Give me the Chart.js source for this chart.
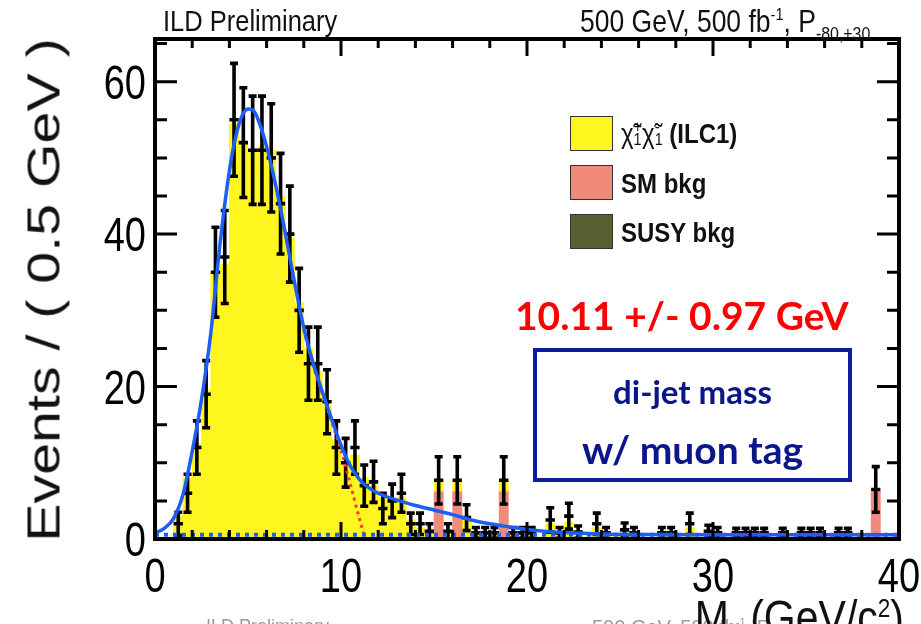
<!DOCTYPE html>
<html>
<head>
<meta charset="utf-8">
<script src="https://cdn.jsdelivr.net/npm/chart.js@4.4.1/dist/chart.umd.min.js"></script>
<style>
html, body { margin: 0; padding: 0; background: #fff; }
#wrap { position: relative; width: 921px; height: 624px; overflow: hidden;
        font-family: 'Liberation Sans', Arial, sans-serif; color: #111; }
canvas { position: absolute; left: 0; top: 0; }
.t { position: absolute; white-space: nowrap; line-height: 1; }
.st { transform-origin: 0 0; transform: scaleY(1.18); }
.top { font-size: 25.5px; top: 6px; }
.faint { font-size: 18px; top: 617px; color: #9a9a9a; }
.ytitle { font-size: 47px; left: 43px; top: 290px; transform: translate(-50%, -50%) scaleY(1.22) rotate(-90deg); }
.xtitle { font-size: 41px; right: 17px; top: 594px; text-align: right; transform-origin: 100% 0; }
.fitval { font-family: Lato, sans-serif; font-weight: 700; color: #f00; font-size: 39px; left: 515px; top: 296px; }
.box { position: absolute; left: 533px; top: 348px; width: 311px; height: 126px; border: 4px solid #0b1c9c; }
.boxtxt { font-family: Lato, sans-serif; font-weight: 700; color: #0a168a; width: 319px; left: 533px; text-align: center; }
.leg { position: absolute; left: 570px; width: 41px; height: 33px; border: 1.5px solid #333; }
.legtxt { font-weight: 700; font-size: 24px; left: 621px; }
.ss { display: inline-block; vertical-align: -0.15em; line-height: 0.75; font-size: 0.6em; text-align: left; }
</style>
</head>
<body>
<div id="wrap">
<canvas id="c" width="921" height="624"></canvas>
<div class="t top st" style="left:163px;">ILD Preliminary</div>
<div class="t top st" style="left:580px; font-size:26.5px;">500 GeV, 500 fb<sup style="font-size:0.55em">-1</sup>, P<sub style="font-size:0.6em; vertical-align:-0.45em">-80,+30</sub></div>
<div class="t faint" style="left:206px;">ILD Preliminary</div>
<div class="t faint" style="left:592px; font-size:20px;">500 GeV, 500 fb<sup style="font-size:0.55em">-1</sup>, P</div>
<div class="t ytitle">Events / ( 0.5 GeV )</div>
<div class="t xtitle st">M<sub style="font-size:0.55em">jj</sub> (GeV/c<sup style="font-size:0.55em">2</sup>)</div>
<div class="leg" style="top:116px; background:#fff51f;"></div>
<div class="leg" style="top:165px; background:#f08a7a;"></div>
<div class="leg" style="top:214px; background:#566030;"></div>
<div class="t legtxt st" style="top:119px;"><span style="font-weight:400">χ̃<span class="ss">+<br>1</span>χ̃<span class="ss">-<br>1</span></span> (ILC1)</div>
<div class="t legtxt st" style="top:169px;">SM bkg</div>
<div class="t legtxt st" style="top:218px;">SUSY bkg</div>
<div class="t fitval">10.11 +/- 0.97 GeV</div>
<div class="box"></div>
<div class="t boxtxt" style="top:375px; font-size:33px;">di-jet mass</div>
<div class="t boxtxt" style="top:430px; font-size:39px;">w/ muon tag</div>
</div>
<script>
// binning of the histogram (0.5 GeV bins from 0 to 40)
const binWidth = 0.5;
const binCenters = Array.from({length: 80}, (_, i) => 0.25 + binWidth * i);

// chargino signal MC (yellow), per bin
const signalMC = [
  0, 0, 3, 8, 12.5, 19.5, 35, 36, 54.5, 52,
  51, 51.5, 51, 45, 39.5, 31, 25, 22, 17.5, 13,
  10, 11, 8, 7, 5.5, 5, 5.5, 2.5, 1.5, 1.2,
  1.3, 1, 1.3, 2.5, 0.8, 0.8, 0.6, 1.3, 0.7, 0.8,
  0.6, 0.3, 2, 0.6, 2.2, 0.6, 0.3, 1.5, 0.5, 0.3,
  0.8, 0.5, 0.2, 0.2, 0.4, 0.8, 0.2, 1.5, 0.2, 0.8,
  0.5, 0.2, 0.3, 0.5, 0.4, 0.4, 0.2, 0.4, 0.2, 0.3,
  0.3, 0.4, 0.2, 0.3, 0.3, 0.2, 0.2, 0, 0.2, 0
];

// SM background (salmon), only the filled bins
const smBkgBins = [15.25, 16.25, 18.75, 38.75];
const smBkgVals = [6.2, 6.2, 6.2, 6.2];

// pseudo-data points and their errors, per bin
const dataY = [
  0, 0, 2, 6, 12, 19, 35, 37, 55, 52,
  51, 51, 50, 44, 40, 30, 23, 23, 18, 12,
  10, 12, 7, 7.5, 4, 5, 6, 2, 2, 1,
  7.7, 1, 7.7, 2.8, 0.8, 0.8, 0.8, 7.7, 0.8, 0.8,
  0.8, 0, 2.5, 0.8, 3, 0.9, 0, 2, 0.8, 0,
  1.2, 0.8, 0, 0, 0.8, 0.8, 0, 2, 0, 1,
  0.8, 0, 0.8, 0.8, 0.8, 0.8, 0, 0.8, 0, 0.8,
  0.8, 0.8, 0, 0.8, 0.8, 0, 0, 6.5, 0, 0
];
const dataErr = [
  0, 0, 1.5, 2.5, 3.5, 4.4, 5.9, 6.1, 7.4, 7.2,
  7.1, 7.1, 7.1, 6.6, 6.3, 5.5, 4.8, 4.8, 4.2, 3.5,
  3.2, 3.5, 2.7, 2.7, 2.0, 2.2, 2.5, 1.4, 1.4, 1.0,
  3.1, 1.0, 3.1, 1.7, 0.7, 0.7, 0.7, 3.1, 0.7, 0.7,
  0.7, 0, 1.6, 0.7, 1.7, 0.8, 0, 1.4, 0.7, 0,
  0.9, 0.7, 0, 0, 0.7, 0.7, 0, 1.4, 0, 0.8,
  0.7, 0, 0.6, 0.6, 0.6, 0.6, 0, 0.6, 0, 0.6,
  0.6, 0.6, 0, 0.6, 0.6, 0, 0, 3.0, 0, 0
];

// total fit (blue)
const fitX = [0, 0.5, 1, 1.5, 2, 2.5, 3, 3.5, 4, 4.5, 5, 5.25, 5.5, 6, 6.5, 7, 7.5, 8, 8.5, 9,
  9.5, 10, 10.5, 11, 11.5, 12, 13, 14, 15, 16, 17, 18, 19, 20, 21, 22, 23, 24, 26, 30, 35, 40];
const fitY = [0.8, 1.4, 2.7, 5.8, 11.5, 18.3, 27, 38.8, 48.3, 54.3, 56.4, 56.3, 55.3, 51.5, 46.3, 40.2, 33.7, 27.7, 23.1, 19.3,
  15.7, 12.3, 9.6, 7.8, 6.7, 6.0, 5.1, 4.4, 3.8, 3.2, 2.5, 2.0, 1.6, 1.25, 1.0, 0.85, 0.75, 0.65, 0.58, 0.55, 0.55, 0.55];

// signal component of the fit (red dotted), visible part
const sigX = [8, 8.5, 9, 9.5, 10, 10.5, 11, 11.3];
const sigY = [27.4, 22.8, 19.0, 15.4, 11.6, 7.2, 2.6, 0];

// flat background component (blue dotted)
const baseX = [0, 40];
const baseY = [0.55, 0.55];

// axis ticks
const xTicks = [0, 10, 20, 30, 40];
const yTicks = [0, 20, 40, 60];

const toXY = (xs, ys) => xs.map((x, i) => ({x: x, y: ys[i]}));
const smBkg = binCenters.map(c => {
  const k = smBkgBins.indexOf(c);
  return k >= 0 ? smBkgVals[k] : 0;
});
const points = [];
const pointErr = [];
binCenters.forEach((x, i) => {
  if (dataY[i] > 0) { points.push({x: x, y: dataY[i]}); pointErr.push(dataErr[i]); }
});

// error bars for the data points
const errorBars = {
  id: 'errorBars',
  afterDatasetDraw(chart, args) {
    const ds = chart.data.datasets[args.index];
    if (!ds.errors) return;
    const {ctx, chartArea: a, scales: {x, y}} = chart;
    ctx.save();
    ctx.beginPath();
    ctx.rect(a.left, a.top, a.right - a.left, a.bottom - a.top);
    ctx.clip();
    ctx.strokeStyle = '#000';
    ctx.lineWidth = 3.6;
    ds.data.forEach((p, i) => {
      const e = ds.errors[i];
      const px = x.getPixelForValue(p.x);
      const py = y.getPixelForValue(p.y);
      const top = y.getPixelForValue(p.y + e);
      const bot = y.getPixelForValue(Math.max(p.y - e, 0));
      const xl = x.getPixelForValue(p.x - binWidth / 2);
      const xr = x.getPixelForValue(p.x + binWidth / 2);
      ctx.beginPath();
      ctx.moveTo(px, top); ctx.lineTo(px, bot);
      ctx.moveTo(xl, py); ctx.lineTo(xr, py);
      ctx.moveTo(px - 4, top); ctx.lineTo(px + 4, top);
      ctx.moveTo(px - 4, bot); ctx.lineTo(px + 4, bot);
      ctx.stroke();
    });
    ctx.restore();
  }
};

// ROOT-like frame with inner ticks and tall tick labels
const frame = {
  id: 'frame',
  afterDraw(chart) {
    const {ctx, chartArea: a, scales: {x, y}} = chart;
    ctx.save();
    ctx.strokeStyle = '#000';
    ctx.lineWidth = 3;
    ctx.beginPath();
    for (let v = 0; v <= 40; v += 2) {
      const px = x.getPixelForValue(v);
      const len = v % 10 === 0 ? 17 : 9;
      ctx.moveTo(px, a.bottom); ctx.lineTo(px, a.bottom - len);
      ctx.moveTo(px, a.top); ctx.lineTo(px, a.top + len);
    }
    for (let v = 0; v <= 65; v += 5) {
      const py = y.getPixelForValue(v);
      const len = v % 20 === 0 ? 22 : 12;
      ctx.moveTo(a.left, py); ctx.lineTo(a.left + len, py);
      ctx.moveTo(a.right, py); ctx.lineTo(a.right - len, py);
    }
    ctx.stroke();
    ctx.lineWidth = 4;
    ctx.strokeRect(a.left, a.top, a.right - a.left, a.bottom - a.top);

    ctx.fillStyle = '#000';
    ctx.font = "38px 'Liberation Sans', Arial, sans-serif";
    ctx.textBaseline = 'alphabetic';
    ctx.textAlign = 'center';
    x.ticks.forEach(t => {
      ctx.save();
      ctx.translate(x.getPixelForValue(t.value), 592);
      ctx.scale(1, 1.28);
      ctx.fillText(String(t.value), 0, 0);
      ctx.restore();
    });
    ctx.textAlign = 'right';
    y.ticks.forEach(t => {
      ctx.save();
      ctx.translate(a.left - 9, y.getPixelForValue(t.value) + 17);
      ctx.scale(1, 1.28);
      ctx.fillText(String(t.value), 0, 0);
      ctx.restore();
    });
    ctx.restore();
  }
};

new Chart(document.getElementById('c'), {
  type: 'bar',
  data: {
    datasets: [
      { type: 'line', label: 'bkg', data: toXY(baseX, baseY), borderColor: '#1e5ef5', borderWidth: 4,
        borderDash: [4, 5], pointRadius: 0, order: 0, stack: 's0' },
      { type: 'line', label: 'fit', data: toXY(fitX, fitY), borderColor: '#1e5ef5', borderWidth: 3.5,
        pointRadius: 0, cubicInterpolationMode: 'monotone', order: 1, stack: 's1' },
      { type: 'line', label: 'signal', data: toXY(sigX, sigY), borderColor: '#ff3b2f', borderWidth: 3,
        borderDash: [3, 4], pointRadius: 0, cubicInterpolationMode: 'monotone', order: 2, stack: 's2' },
      { type: 'scatter', label: 'data', data: points, errors: pointErr, pointRadius: 0, order: 3, stack: 's3' },
      { label: 'SM bkg', data: toXY(binCenters, smBkg), backgroundColor: '#f08a7a', borderWidth: 0,
        barPercentage: 1, categoryPercentage: 1, order: 5, stack: 'mc' },
      { label: 'chargino', data: toXY(binCenters, signalMC), backgroundColor: '#fff51f', borderWidth: 0,
        barPercentage: 1, categoryPercentage: 1, order: 6, stack: 'mc' }
    ]
  },
  options: {
    responsive: false,
    animation: false,
    devicePixelRatio: 1,
    layout: { padding: { left: 0, right: 22, top: 39, bottom: 0 } },
    plugins: { legend: { display: false }, tooltip: { enabled: false } },
    scales: {
      x: {
        type: 'linear', min: 0, max: 40, offset: false, stacked: true,
        grid: { display: false, drawTicks: false }, border: { display: false },
        ticks: { display: false },
        afterBuildTicks(s) { s.ticks = xTicks.map(v => ({value: v})); },
        afterFit(s) { s.height = 85; }
      },
      y: {
        min: 0, max: 65.6, stacked: true,
        grid: { display: false, drawTicks: false }, border: { display: false },
        ticks: { display: false },
        afterBuildTicks(s) { s.ticks = yTicks.map(v => ({value: v})); },
        afterFit(s) { s.width = 155; }
      }
    }
  },
  plugins: [errorBars, frame]
});
</script>
</body>
</html>
